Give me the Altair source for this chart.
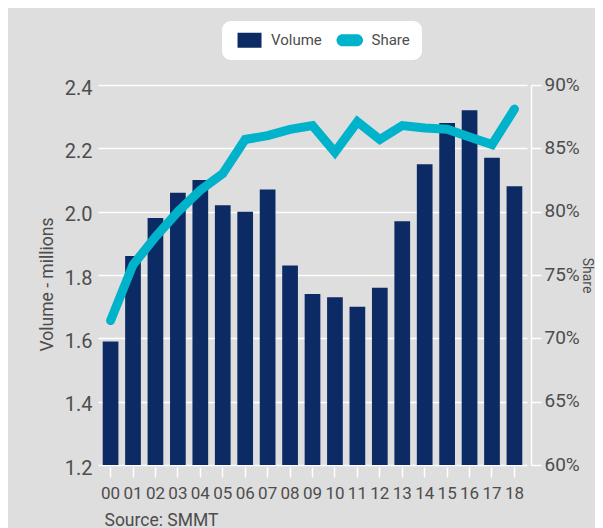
import altair as alt
import pandas as pd

# ---- data ----
years = ["00", "01", "02", "03", "04", "05", "06", "07", "08", "09",
         "10", "11", "12", "13", "14", "15", "16", "17", "18"]
volume = [1.59, 1.86, 1.98, 2.06, 2.10, 2.02, 2.00, 2.07, 1.83, 1.74,
          1.73, 1.70, 1.76, 1.97, 2.15, 2.28, 2.32, 2.17, 2.08]
share = [71.4, 75.8, 78.0, 80.0, 81.7, 83.0, 85.7, 86.0, 86.5, 86.8,
         84.7, 87.1, 85.7, 86.8, 86.6, 86.5, 85.9, 85.3, 88.1]
vol_ticks = [1.2, 1.4, 1.6, 1.8, 2.0, 2.2, 2.4]
share_ticks = [60, 65, 70, 75, 80, 85, 90]
series = ["Volume", "Share"]
vol_base = 1.2

NAVY = "#0c2a63"
CYAN = "#00b2ca"
BG = "#dedede"
TXT = "#4d4d4d"
FONT = "Roboto"

df = pd.DataFrame({"year": years, "volume": volume, "share": share})
legdf = pd.DataFrame({"series": series})

x = alt.X(
    "year:N", sort=years,
    scale=alt.Scale(paddingInner=0.3, paddingOuter=0.21),
    axis=alt.Axis(
        title="Source: SMMT", domain=False, ticks=True, tickColor="white",
        tickSize=10, tickWidth=1.5, offset=2, labelAngle=0,
        labelFont=FONT, labelFontSize=17, labelColor=TXT, labelPadding=8,
        titleFont=FONT, titleFontSize=17.5, titleFontWeight="normal",
        titleColor=TXT, titleAnchor="start", titleAlign="left",
        titleBaseline="top", titleX=6, titleY=44,
    ),
)

bars = alt.Chart(df).mark_bar(color=NAVY).encode(
    x=x,
    y=alt.Y(
        "volume:Q",
        scale=alt.Scale(domain=[1.2, 2.4], nice=False, zero=False),
        axis=alt.Axis(
            values=vol_ticks, format=".1f", grid=True, gridColor="white",
            gridWidth=1.3, domain=False, ticks=False, labelFont=FONT,
            labelFontSize=20, labelColor=TXT, labelPadding=6, labelOffset=3,
            title="Volume - millions", titleFont=FONT, titleFontSize=17.5,
            titleFontWeight="normal", titleColor=TXT,
            titleBaseline="alphabetic", titleX=-46, titleY=199,
        ),
    ),
    y2=alt.datum(vol_base),
)

line = alt.Chart(df).mark_line(
    color=CYAN, strokeWidth=9, strokeCap="round", strokeJoin="miter"
).encode(
    x=x,
    y=alt.Y(
        "share:Q",
        scale=alt.Scale(domain=[60, 90], nice=False, zero=False),
        axis=alt.Axis(
            orient="right", values=share_ticks, labelExpr="datum.value + '%'",
            grid=False, offset=4, domain=True, domainColor="white",
            domainWidth=1.5, ticks=True, tickColor="white", tickSize=10,
            tickWidth=1.5, labelFont=FONT, labelFontSize=19,
            labelColor=TXT, labelPadding=3, labelOffset=-1,
            title="Share", titleFont=FONT, titleFontSize=14,
            titleFontWeight="normal", titleColor=TXT,
            titleBaseline="alphabetic", titleX=51, titleY=190,
        ),
    ),
)

RECT = "M-0.58,-1.25 H3.42 V1.25 H-0.58 Z"
PILL = "M0.17,-1 H2.58 A1,1 0 0 1 2.58,1 H0.17 A1,1 0 0 1 0.17,-1 Z"

leg = alt.Chart(legdf).mark_point(filled=True, size=0, opacity=1).encode(
    shape=alt.Shape(
        "series:N",
        scale=alt.Scale(domain=series, range=[RECT, PILL]),
        legend=alt.Legend(title=None),
    ),
    fill=alt.Fill(
        "series:N",
        scale=alt.Scale(domain=series, range=[NAVY, CYAN]),
        legend=alt.Legend(title=None),
    ),
)

chart = (
    alt.layer(bars, line, leg)
    .resolve_scale(y="independent")
    .properties(
        width=429, height=380,
        background=BG,
        padding={"left": 90, "top": 77, "right": 68, "bottom": 63},
        autosize=alt.AutoSizeParams(type="none"),
    )
    .configure_view(stroke=None)
    .configure_legend(
        orient="none", legendX=124, legendY=-64, direction="horizontal",
        fillColor="white", cornerRadius=9, padding=11.5,
        symbolSize=144, symbolStrokeWidth=0, labelOffset=22.5,
        columnPadding=11.5, labelFont=FONT, labelFontSize=15,
        labelColor=TXT,
    )
)

chart.save("out.html", embed_options={"renderer": "svg", "actions": False})
